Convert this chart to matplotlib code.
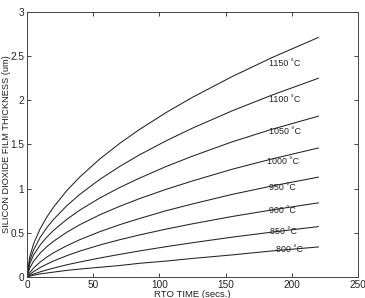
import numpy as np
import matplotlib
matplotlib.use("Agg")
import matplotlib.pyplot as plt

# ---------------- data ----------------
time_s = [0, 2, 5, 10, 15, 20, 30, 40, 55, 70, 85, 105, 125, 155, 185, 220]

thick_1150 = [0, 0.225, 0.377, 0.548, 0.679, 0.790, 0.977, 1.134, 1.336, 1.512, 1.670, 1.861, 2.034, 2.269, 2.483, 2.711]
thick_1100 = [0, 0.182, 0.307, 0.450, 0.559, 0.651, 0.806, 0.937, 1.105, 1.251, 1.383, 1.541, 1.685, 1.881, 2.059, 2.249]
thick_1050 = [0, 0.147, 0.249, 0.364, 0.452, 0.527, 0.652, 0.758, 0.894, 1.013, 1.119, 1.250, 1.368, 1.530, 1.672, 1.820]
thick_1000 = [0, 0.099, 0.179, 0.272, 0.344, 0.404, 0.506, 0.593, 0.704, 0.800, 0.887, 0.992, 1.087, 1.220, 1.336, 1.460]
thick_950  = [0, 0.048, 0.102, 0.170, 0.226, 0.273, 0.354, 0.423, 0.513, 0.592, 0.662, 0.750, 0.827, 0.935, 1.030, 1.130]
thick_900  = [0, 0.027, 0.061, 0.107, 0.146, 0.181, 0.241, 0.294, 0.362, 0.422, 0.476, 0.542, 0.602, 0.685, 0.759, 0.839]
thick_850  = [0, 0.015, 0.033, 0.058, 0.080, 0.100, 0.138, 0.170, 0.215, 0.256, 0.295, 0.343, 0.388, 0.451, 0.508, 0.570]
thick_800  = [0, 0.010, 0.020, 0.035, 0.045, 0.055, 0.075, 0.090, 0.110, 0.130, 0.155, 0.180, 0.210, 0.250, 0.295, 0.340]

series = [thick_1150, thick_1100, thick_1050, thick_1000,
          thick_950, thick_900, thick_850, thick_800]
labels = ["1150 \u02daC", "1100 \u02daC", "1050 \u02daC", "1000 \u02daC",
          "950 \u02daC", "900 \u02daC", "850 \u02daC", "800 \u02daC"]
# label anchor (time, thickness)
label_t = [182.5, 182.5, 182.5, 181.5, 182.5, 182.5, 183.5, 188.0]
label_v = [2.42, 2.01, 1.645, 1.31, 1.016, 0.75, 0.52, 0.306]
# ---------------------------------------------------------

plt.rcParams["font.family"] = ["Liberation Sans", "DejaVu Sans"]

fig = plt.figure(figsize=(3.65, 2.98), dpi=100)
ax = fig.add_axes([0.074, 0.0705, 0.907, 0.8895])

for y in series:
    ax.plot(time_s, y, color="#222222", linewidth=0.75)

for lab, t, v in zip(labels, label_t, label_v):
    ax.text(t, v, lab, fontsize=6.4, ha="left", va="center", color="#222222")

ax.set_xlim(0, 250)
ax.set_ylim(0, 3)
ax.set_xticks([0, 50, 100, 150, 200, 250])
ax.set_yticks([0, 0.5, 1, 1.5, 2, 2.5, 3])
ax.set_yticklabels(["0", "0.5", "1", "1.5", "2", "2.5", "3"])
ax.tick_params(direction="in", length=3, width=0.6, labelsize=7.2,
               top=True, right=True, pad=2, colors="#222222")
for s in ax.spines.values():
    s.set_linewidth(0.7)
    s.set_color("#444444")

ax.set_xlabel("RTO TIME (secs.)", fontsize=6.8, labelpad=0, color="#222222")
ax.set_ylabel("SILICON DIOXIDE FILM THICKNESS (um)", fontsize=6.7,
              color="#222222", va="center")
ax.yaxis.set_label_coords(-0.062, 0.5)

fig.savefig("out.png", dpi=100)
